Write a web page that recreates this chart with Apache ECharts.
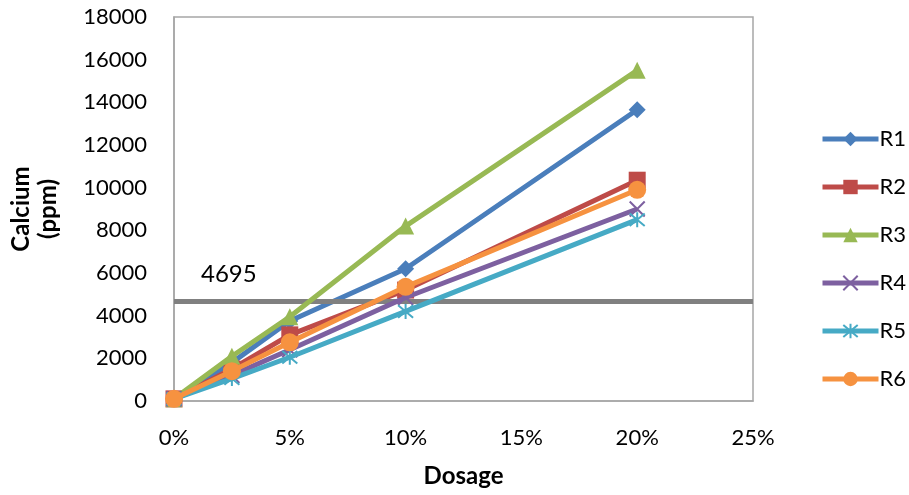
<!DOCTYPE html>
<html>
<head>
<meta charset="utf-8">
<script src="https://cdn.jsdelivr.net/npm/echarts@6/dist/echarts.min.js"></script>
<style>
  html, body { margin: 0; padding: 0; background: #fff; }
  #chart { width: 909px; height: 495px; }
</style>
</head>
<body>
<div id="chart"></div>
<script>
// Dosage levels (fraction) and calcium readings (ppm) per run
const dosage = [0, 0.025, 0.05, 0.10, 0.20];
const seriesNames = ['R1', 'R2', 'R3', 'R4', 'R5', 'R6'];
const R1 = [100, 1800, 3750, 6200, 13650];
const R2 = [100, 1500, 3100, 5200, 10350];
const R3 = [100, 2100, 3950, 8200, 15500];
const R4 = [100, 1200, 2400, 4850, 9000];
const R5 = [100, 1050, 2050, 4200, 8500];
const R6 = [100, 1400, 2750, 5350, 9900];
const limitValue = 4695;
const yTicks = [0, 2000, 4000, 6000, 8000, 10000, 12000, 14000, 16000, 18000];

const colors = ['#4A7EBB', '#BE4B48', '#98B954', '#7D60A0', '#46AAC5', '#F69240'];
const symbols = [
  'diamond',
  'rect',
  'triangle',
  'path://M0 0L20 20M20 0L0 20',
  'path://M0 0L20 20M20 0L0 20M10 -2L10 22',
  'circle'
];
const symbolSizes = [17, 17, 17, 15, 15, 18];
const values = [R1, R2, R3, R4, R5, R6];

const FONT = 'Lato, "Open Sans", sans-serif';

const series = seriesNames.map((name, i) => {
  const isStroke = i === 3 || i === 4;
  return {
    name: name,
    type: 'line',
    data: dosage.map((d, j) => [d, values[i][j]]),
    symbol: symbols[i],
    symbolSize: symbolSizes[i],
    showAllSymbol: true,
    lineStyle: { width: 5, color: colors[i] },
    itemStyle: isStroke
      ? { color: colors[i], borderColor: colors[i], borderWidth: 2 }
      : { color: colors[i] },
    emphasis: { disabled: true },
    z: 3 + i
  };
});

// horizontal reference level
series.push({
  name: 'limit',
  type: 'line',
  data: [],
  markLine: {
    silent: true,
    symbol: ['none', 'none'],
    lineStyle: { color: '#808080', width: 5, type: 'solid' },
    label: {
      show: true,
      position: 'insideStartTop',
      formatter: String(limitValue),
      color: '#000',
      fontFamily: FONT,
      fontSize: 24,
      distance: [27, 15]
    },
    data: [{ yAxis: limitValue }]
  },
  z: 2
});

const chart = echarts.init(document.getElementById('chart'), null, { renderer: 'canvas' });
chart.setOption({
  animation: false,
  backgroundColor: '#fff',
  grid: {
    left: 168, top: 17, right: 156, bottom: 94,
    show: true, borderColor: '#a6a6a6', borderWidth: 1.5, backgroundColor: 'transparent'
  },
  legend: {
    orient: 'vertical',
    left: 815,
    top: 123,
    itemWidth: 56,
    itemHeight: 18,
    itemGap: 26,
    data: seriesNames,
    lineStyle: { width: 5 },
    textStyle: { fontFamily: FONT, fontSize: 22, color: '#000', padding: [0, 0, 0, -4] }
  },
  xAxis: {
    type: 'value',
    min: 0,
    max: 0.25,
    interval: 0.05,
    name: 'Dosage',
    nameLocation: 'middle',
    nameGap: 63,
    nameTextStyle: { fontFamily: FONT, fontSize: 24, fontWeight: 'bold', color: '#000' },
    axisLine: { show: true, lineStyle: { color: '#a6a6a6', width: 1.5 } },
    axisTick: { show: false },
    splitLine: { show: false },
    axisLabel: {
      fontFamily: FONT, fontSize: 22, color: '#000', margin: 26,
      formatter: v => Math.round(v * 100) + '%'
    }
  },
  yAxis: {
    type: 'value',
    min: yTicks[0],
    max: yTicks[yTicks.length - 1],
    interval: 2000,
    name: 'Calcium\n(ppm)',
    nameLocation: 'middle',
    nameGap: 112,
    nameRotate: 90,
    nameTextStyle: { fontFamily: FONT, fontSize: 24, fontWeight: 'bold', color: '#000', lineHeight: 27 },
    axisLine: { show: true, lineStyle: { color: '#a6a6a6', width: 1.5 } },
    axisTick: { show: false },
    splitLine: { show: false },
    axisLabel: { fontFamily: FONT, fontSize: 22, color: '#000', margin: 27, formatter: v => String(v) }
  },
  series: series
});
</script>
</body>
</html>
